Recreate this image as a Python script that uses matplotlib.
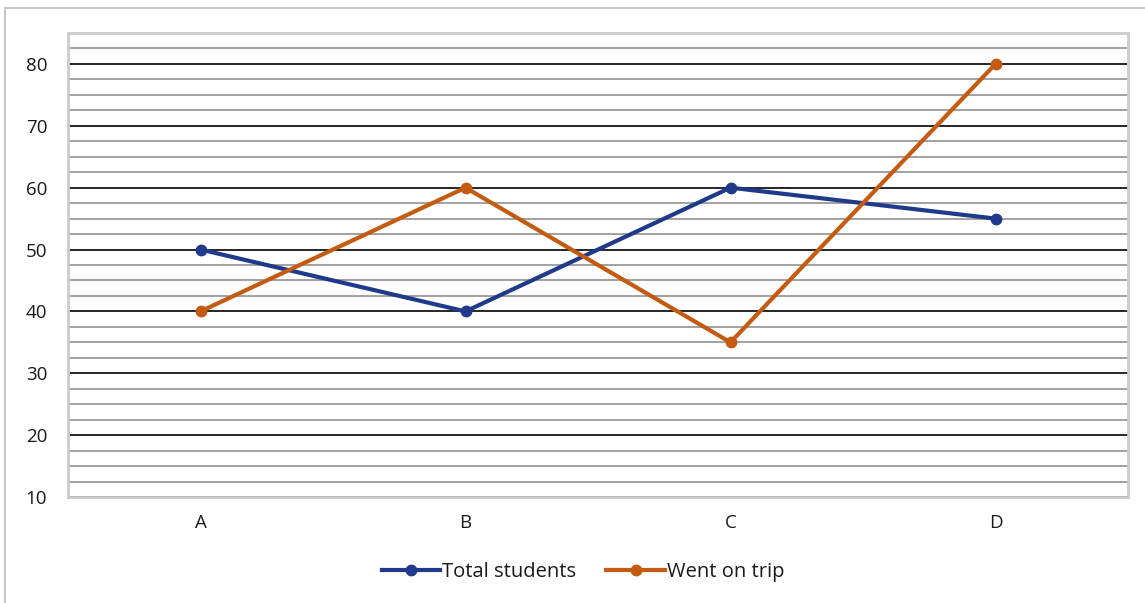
import matplotlib.pyplot as plt
from matplotlib.patches import Rectangle
import numpy as np

categories = ["A", "B", "C", "D"]
total_students = [50, 40, 60, 55]
went_on_trip = [40, 60, 35, 80]

plt.rcParams['font.family'] = ['Open Sans', 'DejaVu Sans']

fig = plt.figure(figsize=(11.45, 6.03), dpi=100)
ax = fig.add_axes([68/1145, 1 - 497/603, (1128 - 68)/1145, (497 - 33)/603])

x = np.arange(len(categories))
ax.plot(x, total_students, color='#1f3a8a', lw=3, marker='o', ms=7.5, label='Total students', zorder=3)
ax.plot(x, went_on_trip, color='#c55a11', lw=3, marker='o', ms=7.5, label='Went on trip', zorder=4)

ax.set_xlim(-0.5, 3.5)
ax.set_ylim(10, 85)
ax.set_yticks(np.arange(10, 81, 10))
ax.set_yticks(np.arange(10, 85.1, 2.5), minor=True)
ax.set_xticks(x)
ax.set_xticklabels(categories)

ax.grid(which='minor', axis='y', color='#9a9a9a', lw=1.3)
ax.grid(which='major', axis='y', color='#262626', lw=1.4)
ax.set_axisbelow(True)
for s in ax.spines.values():
    s.set_color('#cccccc')
    s.set_linewidth(2)

ax.tick_params(axis='both', which='both', length=0, labelsize=13.5, colors='#1a1a1a')
ax.tick_params(axis='y', pad=15)
ax.tick_params(axis='x', pad=12)

leg = fig.legend(loc='center', bbox_to_anchor=(583/1145, 1 - 572/603), ncol=2, frameon=False,
                 fontsize=14.5, handlelength=2.9, columnspacing=1.5, handletextpad=0.1)
for t in leg.get_texts():
    t.set_color('#1a1a1a')

fig.patches.append(Rectangle((5/1145, -0.1), 1.2, 1.1 - 8/603, transform=fig.transFigure,
                             fill=False, edgecolor='#c8c8c8', lw=1.5))

fig.savefig('out.png', dpi=100)
